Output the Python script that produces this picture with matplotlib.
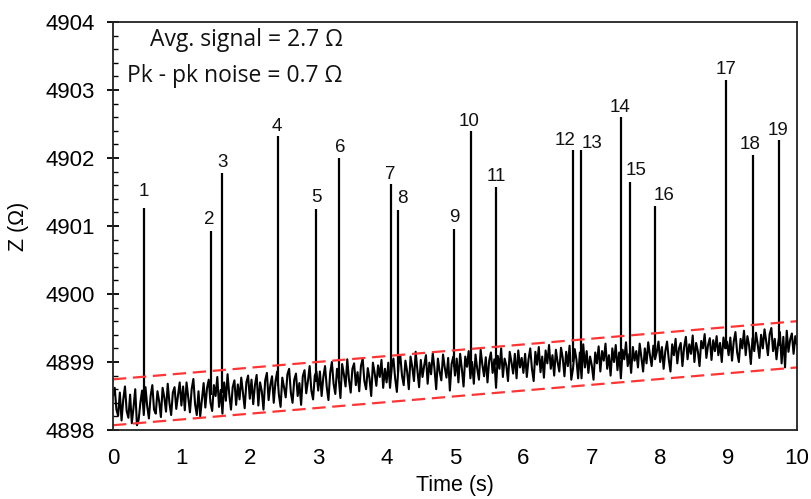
import numpy as np
import matplotlib.pyplot as plt
from matplotlib.ticker import MultipleLocator

# baseline trace, one row per second, sampled every 0.025 s (ohm above 4898)
Z_REF = 4898.0
DT = 0.025
trace_rows = [
    [0.50, 0.62, 0.30, 0.21, 0.55, 0.14, 0.45, 0.64, 0.28, 0.18, 0.52, 0.10, 0.33, 0.60, 0.07, 0.15, 0.40, 0.58, 0.22, 0.63,
     0.35, 0.17, 0.50, 0.66, 0.30, 0.24, 0.57, 0.42, 0.19, 0.62, 0.48, 0.27, 0.68, 0.40, 0.22, 0.55, 0.63, 0.31, 0.50, 0.70],
    [0.36, 0.64, 0.29, 0.70, 0.48, 0.26, 0.60, 0.75, 0.38, 0.22, 0.57, 0.20, 0.45, 0.69, 0.33, 0.62, 0.74, 0.40, 0.28, 0.66,
     0.50, 0.78, 0.34, 0.59, 0.24, 0.70, 0.43, 0.82, 0.52, 0.30, 0.63, 0.73, 0.37, 0.67, 0.45, 0.77, 0.55, 0.32, 0.70, 0.80],
    [0.46, 0.74, 0.38, 0.66, 0.81, 0.36, 0.70, 0.57, 0.30, 0.73, 0.84, 0.44, 0.66, 0.79, 0.40, 0.71, 0.86, 0.52, 0.34, 0.77,
     0.63, 0.48, 0.82, 0.90, 0.55, 0.40, 0.74, 0.83, 0.50, 0.69, 0.37, 0.79, 0.88, 0.54, 0.72, 0.94, 0.58, 0.45, 0.80, 0.86],
    [0.58, 0.86, 0.50, 0.78, 0.94, 0.63, 0.44, 0.84, 1.00, 0.68, 0.53, 0.90, 0.76, 0.47, 0.97, 0.82, 0.64, 1.04, 0.74, 0.55,
     0.90, 0.98, 0.66, 0.85, 0.57, 0.94, 1.05, 0.72, 0.60, 0.91, 0.76, 0.50, 0.99, 0.84, 0.65, 0.95, 0.78, 1.03, 0.62, 0.90],
    [0.70, 0.99, 0.62, 0.92, 1.05, 0.76, 0.56, 0.96, 1.10, 0.80, 0.66, 1.02, 0.86, 0.60, 1.08, 0.93, 0.72, 1.15, 0.88, 0.63,
     1.03, 0.78, 0.95, 1.10, 0.68, 0.99, 0.82, 1.13, 0.90, 0.60, 1.05, 0.86, 0.73, 1.11, 0.92, 0.77, 1.06, 0.58, 0.97, 1.08],
    [0.80, 1.05, 0.70, 1.12, 0.90, 0.64, 1.08, 0.93, 1.16, 0.76, 1.00, 0.68, 1.11, 0.90, 0.74, 1.18, 0.96, 0.79, 1.07, 0.70,
     1.02, 1.14, 0.84, 1.04, 0.62, 1.09, 0.90, 1.20, 0.78, 1.05, 0.95, 0.72, 1.15, 1.00, 0.83, 1.12, 0.76, 1.17, 0.92, 1.06],
    [0.84, 1.12, 0.78, 1.04, 1.20, 0.90, 0.72, 1.15, 0.96, 1.22, 0.85, 1.08, 0.77, 1.17, 0.98, 1.25, 0.90, 1.10, 0.80, 1.18,
     1.00, 0.86, 1.21, 1.06, 0.79, 1.15, 0.94, 1.24, 0.74, 0.90, 1.19, 1.04, 0.76, 1.14, 0.76, 1.26, 0.92, 1.16, 0.84, 1.08],
    [0.95, 0.74, 1.14, 0.98, 1.23, 0.86, 1.16, 1.02, 1.27, 0.90, 1.10, 0.80, 1.20, 1.00, 1.25, 0.88, 1.14, 0.76, 1.18, 1.04,
     1.29, 0.94, 1.12, 0.84, 1.22, 1.02, 1.16, 0.92, 1.27, 1.06, 0.86, 1.20, 0.98, 1.29, 1.10, 0.94, 1.24, 1.04, 1.15, 1.30],
    [1.00, 1.22, 0.90, 1.16, 1.30, 1.04, 0.86, 1.26, 1.10, 1.34, 0.98, 1.20, 1.28, 0.94, 1.22, 1.37, 1.04, 1.26, 1.12, 1.39,
     1.00, 1.28, 1.16, 0.94, 1.31, 1.20, 1.41, 1.06, 1.25, 1.35, 1.03, 1.32, 1.16, 1.38, 1.10, 1.28, 1.00, 1.36, 1.20, 1.30],
    [1.10, 1.36, 1.02, 1.30, 1.44, 1.14, 1.00, 1.34, 1.20, 1.46, 1.10, 1.38, 1.24, 0.97, 1.35, 1.16, 1.43, 1.26, 1.06, 1.40,
     1.20, 1.48, 1.30, 1.10, 1.41, 1.50, 1.16, 1.34, 1.04, 1.28, 1.44, 0.98, 1.37, 0.92, 1.46, 1.15, 1.33, 1.42, 1.12, 1.38],
]
trace_last = 1.25

# detected events
spike_t = [0.46, 1.43, 1.59, 2.41, 2.97, 3.30, 4.06, 4.16, 4.99, 5.23,
           5.60, 6.73, 6.84, 7.42, 7.56, 7.93, 8.96, 9.35, 9.74]
spike_top = [4901.26, 4900.93, 4901.78, 4902.32, 4901.25, 4902.00, 4901.62, 4901.23, 4900.96, 4902.39,
             4901.57, 4902.12, 4902.12, 4902.61, 4901.64, 4901.30, 4903.15, 4902.05, 4902.26]
spike_base = [4898.45, 4898.52, 4898.55, 4898.64, 4898.70, 4898.75, 4898.84, 4898.85, 4898.92, 4898.93,
              4898.95, 4899.00, 4899.01, 4899.05, 4899.06, 4899.09, 4899.19, 4899.23, 4899.24]
spike_names = [str(i + 1) for i in range(len(spike_t))]

# noise band
band_t = [0, 10]
band_lo = [4898.07, 4898.92]
band_hi = [4898.745, 4899.60]

# label nudges in pixels
label_dx = [-1, -2, 1, -1, 0, 2, 0, 5, 0, -2, 0, -8, 11, -1, 6, 9, 0, -2, -1]
label_dy = [12.6, 6.7, 6, 5, 7, 6, 5, 7, 7, 5.7, 6.3, 5, 2.3, 4.4, 7.7, 5.7, 6, 6, 5]


def main():
    plt.rcParams['font.family'] = ['Liberation Sans', 'DejaVu Sans']

    z = Z_REF + np.array([v for row in trace_rows for v in row] + [trace_last])
    t = np.arange(len(z)) * DT

    fig = plt.figure(figsize=(8.11, 4.99), dpi=100)
    ax = fig.add_axes([113 / 811, 69 / 499, 684 / 811, 408 / 499])

    ax.plot(t, z, color='black', lw=1.5)
    ax.vlines(spike_t, spike_base, spike_top, color='black', lw=1.6)
    for x, top, name, dx, dy in zip(spike_t, spike_top, spike_names, label_dx, label_dy):
        ax.annotate(name, (x, top), xytext=(dx, dy), textcoords='offset pixels',
                    ha='center', va='baseline', fontsize=13.5, color='#111111')

    for yy in (band_lo, band_hi):
        ax.plot(band_t, yy, color='#ff3535', lw=1.6, dashes=(6, 3))

    ax.text(3.36, 4903.64, 'Avg. signal = 2.7 Ω', ha='right', va='baseline',
            family=['Open Sans', 'DejaVu Sans'], fontsize=16.5, color='#111111')
    ax.text(3.36, 4903.12, 'Pk - pk noise = 0.7 Ω', ha='right', va='baseline',
            family=['Open Sans', 'DejaVu Sans'], fontsize=16.5, color='#111111')

    ax.set_xlim(0, 10)
    ax.set_ylim(4898, 4904)
    ax.xaxis.set_major_locator(MultipleLocator(1))
    ax.yaxis.set_major_locator(MultipleLocator(1))
    ax.yaxis.set_minor_locator(MultipleLocator(0.2))
    ax.tick_params(axis='x', length=0, pad=13, labelsize=16)
    ax.tick_params(axis='y', which='major', direction='inout', length=8, width=1.3, pad=9, labelsize=16)
    ax.tick_params(axis='y', which='minor', direction='in', length=3.5, width=1.0)
    ax.ticklabel_format(axis='y', useOffset=False)

    for s in ax.spines.values():
        s.set_linewidth(1.3)
        s.set_color('#222222')

    ax.set_xlabel('Time (s)', fontsize=15.5, labelpad=4)
    ax.set_ylabel('Z (Ω)', fontsize=15.5, labelpad=12)

    fig.savefig('out.png', dpi=100)


if __name__ == "__main__":
    main()
